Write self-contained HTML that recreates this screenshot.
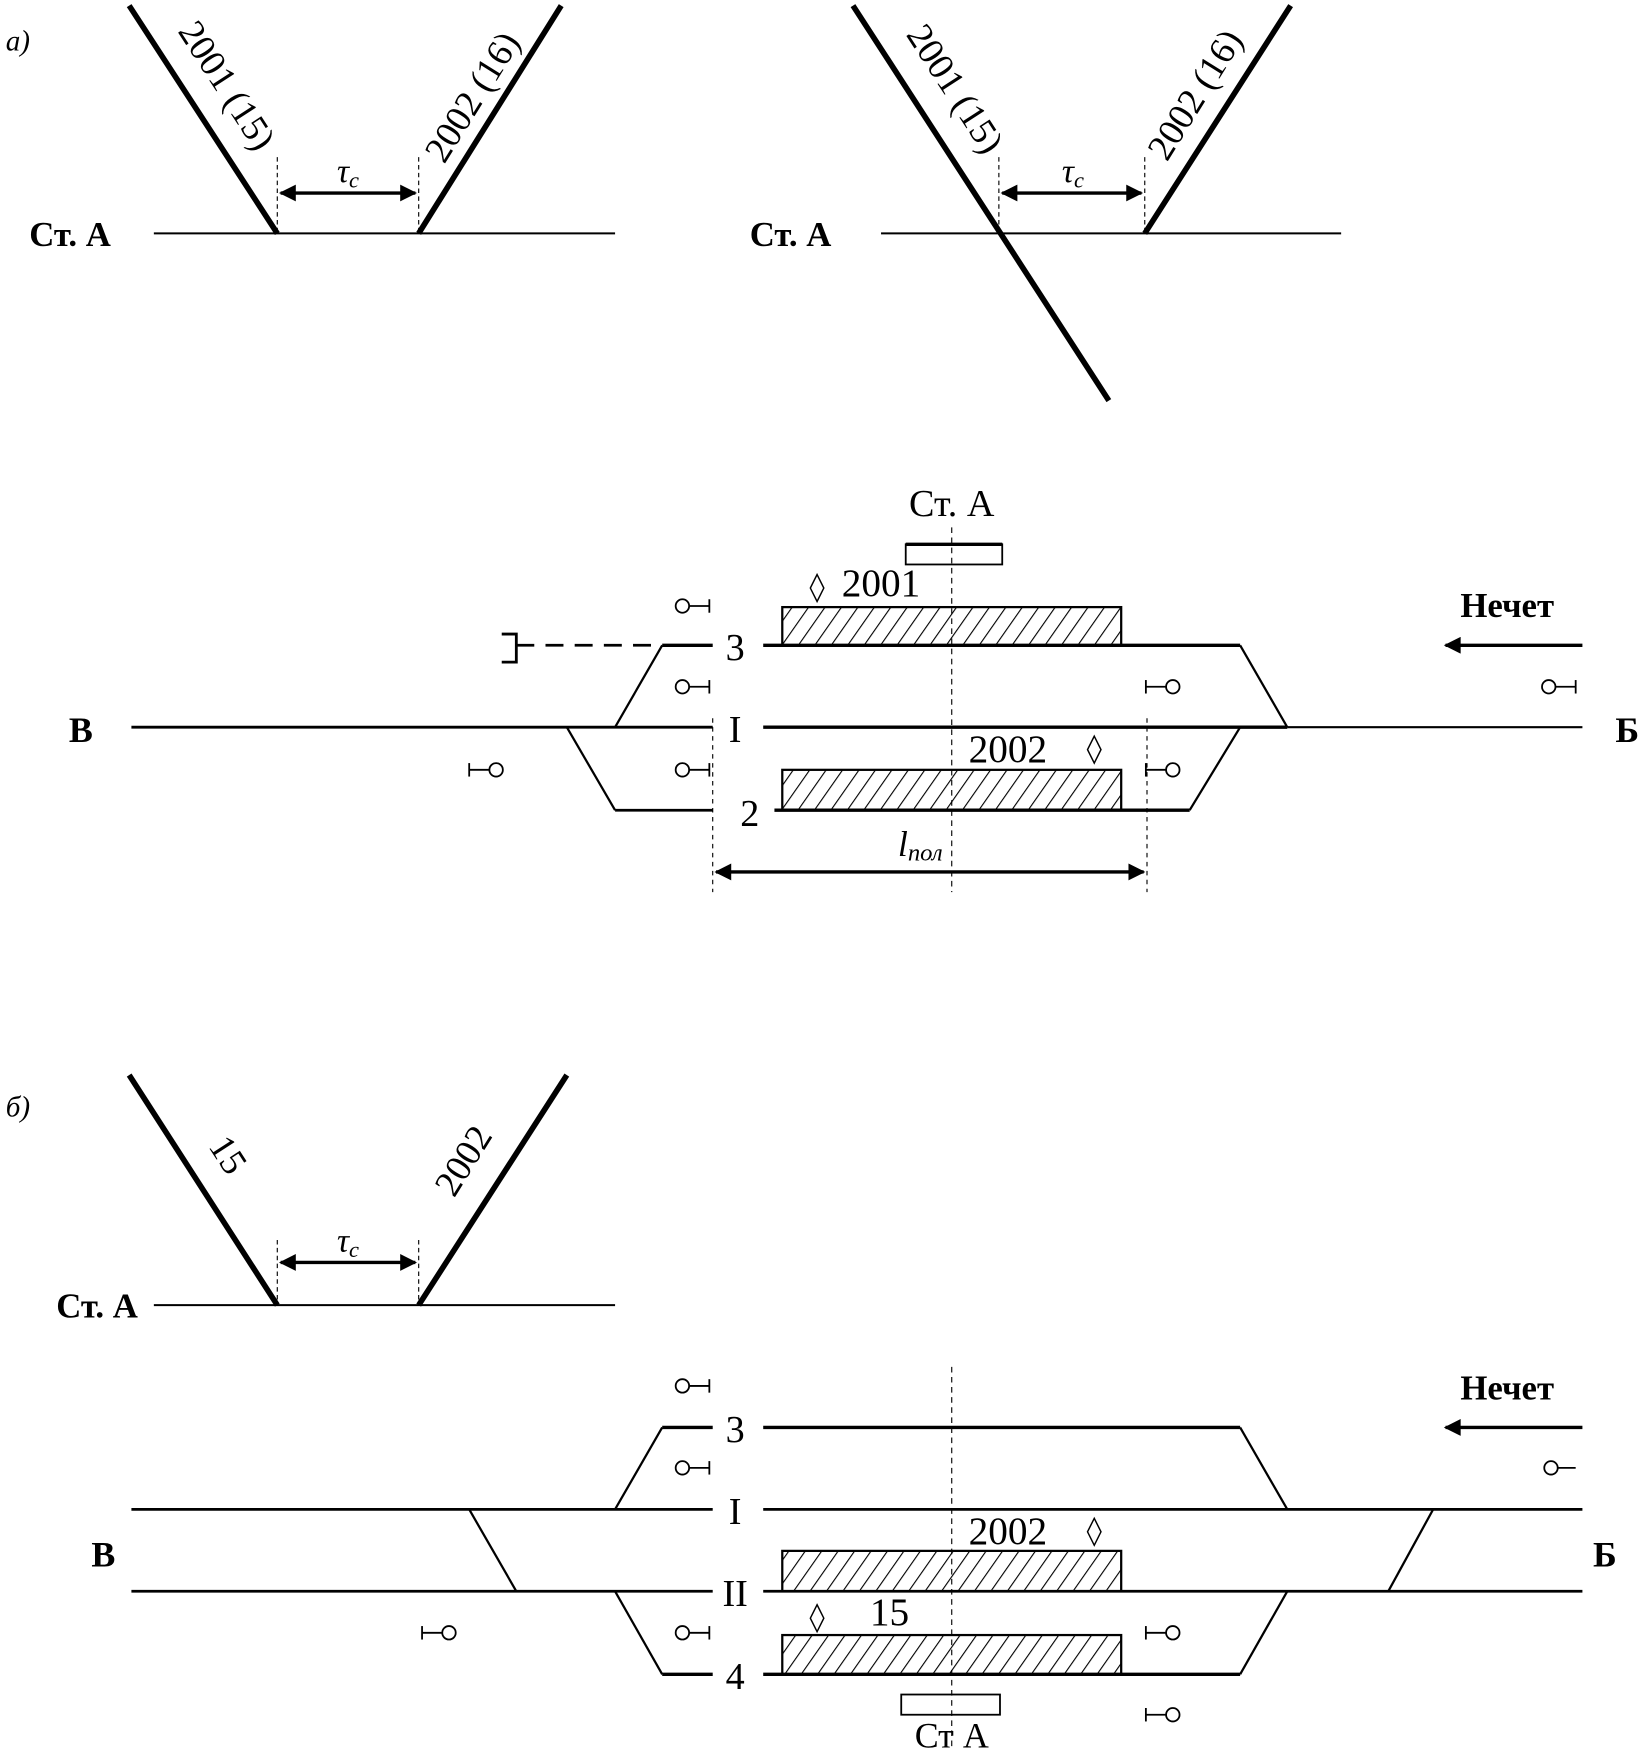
<!DOCTYPE html>
<html><head><meta charset="utf-8"><style>
html,body{margin:0;padding:0;background:#fff;}
svg{display:block;}
text{font-family:"Liberation Serif",serif;fill:#000;}
</style></head><body>
<svg width="1642" height="1754" viewBox="0 0 1463 1563" xmlns="http://www.w3.org/2000/svg">
<defs>
<pattern id="h" patternUnits="userSpaceOnUse" width="12" height="12" patternTransform="rotate(35)">
<line x1="0" y1="0" x2="0" y2="12" stroke="#000" stroke-width="2"/>
</pattern>
<marker id="ah" viewBox="0 0 10 10" refX="9" refY="5" markerWidth="7" markerHeight="5" orient="auto-start-reverse">
<path d="M0,0 L10,5 L0,10 z" fill="#000"/></marker>
<g id="sl"><circle cx="0" cy="0" r="6" fill="none" stroke="#000" stroke-width="1.6"/><line x1="6" y1="0" x2="24" y2="0" stroke="#000" stroke-width="1.6"/><line x1="24" y1="-6" x2="24" y2="6" stroke="#000" stroke-width="1.6"/></g>
<g id="sr"><circle cx="0" cy="0" r="6" fill="none" stroke="#000" stroke-width="1.6"/><line x1="-6" y1="0" x2="-24" y2="0" stroke="#000" stroke-width="1.6"/><line x1="-24" y1="-6" x2="-24" y2="6" stroke="#000" stroke-width="1.6"/></g>
</defs>

<!-- a) top-left -->
<text x="5" y="45" font-size="26" font-style="italic">а)</text>
<line x1="137" y1="208" x2="548" y2="208" stroke="#000" stroke-width="1.8"/>
<line x1="115" y1="5" x2="247" y2="208" stroke="#000" stroke-width="5"/>
<line x1="373" y1="208" x2="500" y2="5" stroke="#000" stroke-width="5"/>
<text x="0" y="0" font-size="33" transform="translate(193,82) rotate(57)" text-anchor="middle">2001 (15)</text>
<text x="0" y="0" font-size="33" transform="translate(430,92) rotate(-58)" text-anchor="middle">2002 (16)</text>
<line x1="247" y1="140" x2="247" y2="208" stroke="#000" stroke-width="1" stroke-dasharray="4,3"/>
<line x1="373" y1="140" x2="373" y2="208" stroke="#000" stroke-width="1" stroke-dasharray="4,3"/>
<line x1="250" y1="172" x2="370" y2="172" stroke="#000" stroke-width="3" marker-start="url(#ah)" marker-end="url(#ah)"/>
<text x="310" y="162" font-size="30" font-style="italic" text-anchor="middle">τ<tspan font-size="20" dy="5">c</tspan></text>
<text x="26" y="219" font-size="31" font-weight="bold">Ст. А</text>

<!-- a) top-right -->
<line x1="785" y1="208" x2="1195" y2="208" stroke="#000" stroke-width="1.8"/>
<line x1="760" y1="5" x2="988" y2="357" stroke="#000" stroke-width="5"/>
<line x1="1020" y1="208" x2="1150" y2="5" stroke="#000" stroke-width="5"/>
<text x="0" y="0" font-size="33" transform="translate(842,85) rotate(57)" text-anchor="middle">2001 (15)</text>
<text x="0" y="0" font-size="33" transform="translate(1074,90) rotate(-58)" text-anchor="middle">2002 (16)</text>
<line x1="890" y1="140" x2="890" y2="208" stroke="#000" stroke-width="1" stroke-dasharray="4,3"/>
<line x1="1020" y1="140" x2="1020" y2="208" stroke="#000" stroke-width="1" stroke-dasharray="4,3"/>
<line x1="893" y1="172" x2="1017" y2="172" stroke="#000" stroke-width="3" marker-start="url(#ah)" marker-end="url(#ah)"/>
<text x="956" y="162" font-size="30" font-style="italic" text-anchor="middle">τ<tspan font-size="20" dy="5">c</tspan></text>
<text x="668" y="219" font-size="31" font-weight="bold">Ст. А</text>

<!-- station diagram a -->
<text x="848" y="460" font-size="34" text-anchor="middle">Ст. А</text>
<rect x="807" y="485" width="86" height="18" fill="none" stroke="#000" stroke-width="1.6"/>
<line x1="807" y1="485" x2="893" y2="485" stroke="#000" stroke-width="3"/>
<line x1="848" y1="470" x2="848" y2="795" stroke="#000" stroke-width="1" stroke-dasharray="5,4"/>
<rect x="697" y="541" width="302" height="34" fill="url(#h)" stroke="#000" stroke-width="2"/>
<rect x="697" y="686" width="302" height="36" fill="url(#h)" stroke="#000" stroke-width="2"/>
<text x="750" y="531" font-size="35">2001</text>
<path d="M728,512 L734,524 L728,536 L722,524 Z" fill="none" stroke="#000" stroke-width="1.3"/>
<text x="863" y="679" font-size="35">2002</text>
<path d="M975,656 L981,668 L975,680 L969,668 Z" fill="none" stroke="#000" stroke-width="1.3"/>
<line x1="590" y1="575" x2="635" y2="575" stroke="#000" stroke-width="3"/>
<line x1="460" y1="575" x2="590" y2="575" stroke="#000" stroke-width="2.5" stroke-dasharray="16,10"/>
<path d="M447,565 L460,565 L460,590 L447,590" fill="none" stroke="#000" stroke-width="2.5"/>
<line x1="680" y1="575" x2="1105" y2="575" stroke="#000" stroke-width="3"/>
<text x="655" y="588" font-size="34" text-anchor="middle">3</text>
<line x1="590" y1="575" x2="548" y2="648" stroke="#000" stroke-width="2"/>
<line x1="1105" y1="575" x2="1147" y2="648" stroke="#000" stroke-width="2"/>
<line x1="117" y1="648" x2="635" y2="648" stroke="#000" stroke-width="2.5"/>
<line x1="680" y1="648" x2="1147" y2="648" stroke="#000" stroke-width="3"/>
<line x1="1147" y1="648" x2="1410" y2="648" stroke="#000" stroke-width="1.8"/>
<text x="655" y="661" font-size="34" text-anchor="middle">I</text>
<line x1="505" y1="648" x2="548" y2="722" stroke="#000" stroke-width="2"/>
<line x1="548" y1="722" x2="635" y2="722" stroke="#000" stroke-width="2.5"/>
<line x1="690" y1="722" x2="1060" y2="722" stroke="#000" stroke-width="3"/>
<line x1="1060" y1="722" x2="1105" y2="648" stroke="#000" stroke-width="2"/>
<text x="668" y="736" font-size="34" text-anchor="middle">2</text>
<line x1="635" y1="640" x2="635" y2="795" stroke="#000" stroke-width="1" stroke-dasharray="4,4"/>
<line x1="1022" y1="640" x2="1022" y2="795" stroke="#000" stroke-width="1" stroke-dasharray="4,4"/>
<line x1="638" y1="777" x2="1019" y2="777" stroke="#000" stroke-width="3" marker-start="url(#ah)" marker-end="url(#ah)"/>
<text x="800" y="763" font-size="32" font-style="italic">l<tspan font-size="22" dy="4">пол</tspan></text>
<use href="#sl" x="608" y="540"/>
<use href="#sl" x="608" y="612"/>
<use href="#sl" x="608" y="686"/>
<use href="#sr" x="1045" y="612"/>
<use href="#sr" x="1045" y="686"/>
<use href="#sr" x="442" y="686"/>
<use href="#sl" x="1380" y="612"/>
<text x="72" y="661" font-size="32" font-weight="bold" text-anchor="middle">В</text>
<text x="1450" y="661" font-size="32" font-weight="bold" text-anchor="middle">Б</text>
<text x="1343" y="550" font-size="31" font-weight="bold" text-anchor="middle">Нечет</text>
<line x1="1410" y1="575" x2="1288" y2="575" stroke="#000" stroke-width="3" marker-end="url(#ah)"/>

<!-- б) -->
<text x="5" y="995" font-size="26" font-style="italic">б)</text>
<line x1="137" y1="1163" x2="548" y2="1163" stroke="#000" stroke-width="1.8"/>
<line x1="115" y1="958" x2="247" y2="1163" stroke="#000" stroke-width="5"/>
<line x1="373" y1="1163" x2="505" y2="958" stroke="#000" stroke-width="5"/>
<text x="0" y="0" font-size="33" transform="translate(194,1035) rotate(57)" text-anchor="middle">15</text>
<text x="0" y="0" font-size="33" transform="translate(422,1040) rotate(-58)" text-anchor="middle">2002</text>
<line x1="247" y1="1105" x2="247" y2="1163" stroke="#000" stroke-width="1" stroke-dasharray="4,3"/>
<line x1="373" y1="1105" x2="373" y2="1163" stroke="#000" stroke-width="1" stroke-dasharray="4,3"/>
<line x1="250" y1="1125" x2="370" y2="1125" stroke="#000" stroke-width="3" marker-start="url(#ah)" marker-end="url(#ah)"/>
<text x="310" y="1115" font-size="30" font-style="italic" text-anchor="middle">τ<tspan font-size="20" dy="5">c</tspan></text>
<text x="50" y="1174" font-size="31" font-weight="bold">Ст. А</text>

<line x1="848" y1="1218" x2="848" y2="1560" stroke="#000" stroke-width="1" stroke-dasharray="5,4"/>
<line x1="590" y1="1272" x2="635" y2="1272" stroke="#000" stroke-width="3"/>
<line x1="680" y1="1272" x2="1105" y2="1272" stroke="#000" stroke-width="3"/>
<text x="655" y="1285" font-size="34" text-anchor="middle">3</text>
<line x1="590" y1="1272" x2="548" y2="1345" stroke="#000" stroke-width="2"/>
<line x1="1105" y1="1272" x2="1147" y2="1345" stroke="#000" stroke-width="2"/>
<line x1="117" y1="1345" x2="635" y2="1345" stroke="#000" stroke-width="2.5"/>
<line x1="680" y1="1345" x2="1410" y2="1345" stroke="#000" stroke-width="2.5"/>
<text x="655" y="1358" font-size="34" text-anchor="middle">I</text>
<line x1="418" y1="1345" x2="460" y2="1418" stroke="#000" stroke-width="2"/>
<line x1="1277" y1="1345" x2="1237" y2="1418" stroke="#000" stroke-width="2"/>
<line x1="117" y1="1418" x2="635" y2="1418" stroke="#000" stroke-width="2.5"/>
<line x1="680" y1="1418" x2="1410" y2="1418" stroke="#000" stroke-width="2.5"/>
<text x="655" y="1431" font-size="34" text-anchor="middle">II</text>
<line x1="548" y1="1418" x2="590" y2="1492" stroke="#000" stroke-width="2"/>
<line x1="1147" y1="1418" x2="1105" y2="1492" stroke="#000" stroke-width="2"/>
<line x1="590" y1="1492" x2="635" y2="1492" stroke="#000" stroke-width="3"/>
<line x1="680" y1="1492" x2="1105" y2="1492" stroke="#000" stroke-width="3"/>
<text x="655" y="1505" font-size="34" text-anchor="middle">4</text>
<rect x="697" y="1382" width="302" height="36" fill="url(#h)" stroke="#000" stroke-width="2"/>
<rect x="697" y="1457" width="302" height="35" fill="url(#h)" stroke="#000" stroke-width="2"/>
<text x="863" y="1376" font-size="35">2002</text>
<path d="M975,1353 L981,1365 L975,1377 L969,1365 Z" fill="none" stroke="#000" stroke-width="1.3"/>
<text x="775" y="1448" font-size="35">15</text>
<path d="M728,1430 L734,1442 L728,1454 L722,1442 Z" fill="none" stroke="#000" stroke-width="1.3"/>
<rect x="803" y="1510" width="88" height="18" fill="none" stroke="#000" stroke-width="1.6"/>
<text x="848" y="1557" font-size="32" text-anchor="middle">Ст  А</text>
<use href="#sl" x="608" y="1235"/>
<use href="#sl" x="608" y="1308"/>
<use href="#sl" x="608" y="1455"/>
<use href="#sr" x="400" y="1455"/>
<use href="#sr" x="1045" y="1455"/>
<use href="#sr" x="1045" y="1528"/>
<g transform="translate(1382,1308)"><circle r="6" fill="none" stroke="#000" stroke-width="1.6"/><line x1="6" y1="0" x2="22" y2="0" stroke="#000" stroke-width="1.6"/></g>
<text x="92" y="1396" font-size="32" font-weight="bold" text-anchor="middle">В</text>
<text x="1430" y="1396" font-size="32" font-weight="bold" text-anchor="middle">Б</text>
<text x="1343" y="1247" font-size="31" font-weight="bold" text-anchor="middle">Нечет</text>
<line x1="1410" y1="1272" x2="1288" y2="1272" stroke="#000" stroke-width="3" marker-end="url(#ah)"/>
</svg>
</body></html>
